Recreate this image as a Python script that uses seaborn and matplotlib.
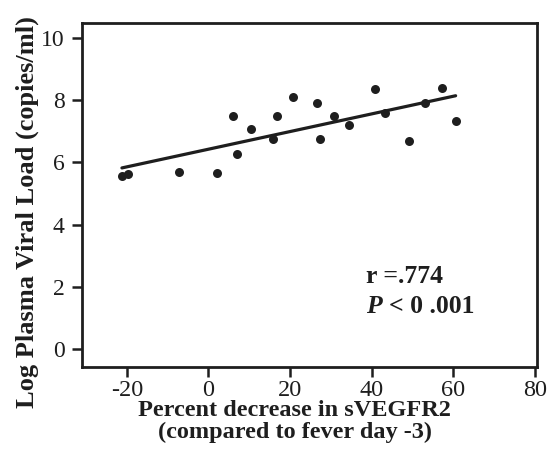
import matplotlib
matplotlib.use("Agg")
import matplotlib.pyplot as plt
import seaborn as sns
import pandas as pd

pct_decrease = [-21.2, -19.6, -7.2, 2.2, 6.1, 6.9, 10.4, 15.8, 16.9, 20.7,
                26.5, 27.4, 30.9, 34.5, 40.9, 43.3, 49.2, 53.2, 57.2, 60.6]
log_viral_load = [5.57, 5.63, 5.69, 5.67, 7.49, 6.26, 7.07, 6.75, 7.49, 8.09,
                  7.92, 6.76, 7.49, 7.22, 8.36, 7.60, 6.69, 7.92, 8.40, 7.34]
x_ticks = [-20, 0, 20, 40, 60, 80]
y_ticks = [0, 2, 4, 6, 8, 10]

df = pd.DataFrame({"x": pct_decrease, "y": log_viral_load})

sns.set_style("white")
plt.rcParams["font.family"] = ["Liberation Serif", "DejaVu Serif"]
plt.rcParams["axes.unicode_minus"] = False

ink = "#1e1e1e"
fig = plt.figure(figsize=(5.5, 4.54), dpi=100)
ax = fig.add_axes([0.149, 0.1916, 0.827, 0.7574])

sns.regplot(data=df, x="x", y="y", ax=ax, ci=None, color=ink,
            scatter_kws={"s": 42, "linewidths": 0, "alpha": 1},
            line_kws={"linewidth": 2.3})

ax.set_xlim(-31, 80.5)
ax.set_ylim(-0.58, 10.48)
ax.set_xticks(x_ticks)
ax.set_yticks(y_ticks)
ax.tick_params(axis="both", direction="out", length=7.5, width=1.8,
               colors=ink)
ax.tick_params(axis="x", labelsize=17.5, pad=2)
ax.tick_params(axis="y", labelsize=17, pad=5)
ax.tick_params(left=True, bottom=True)
for s in ax.spines.values():
    s.set_linewidth(2)
    s.set_color(ink)

ax.set_xlabel("Percent decrease in sVEGFR2\n(compared to fever day -3)",
              fontsize=17.5, fontweight="bold", color=ink, linespacing=1.05)
ax.set_ylabel("Log Plasma Viral Load (copies/ml)", fontsize=19,
              fontweight="bold", color=ink)
ax.xaxis.set_label_coords(0.468, -0.097)
ax.yaxis.set_label_coords(-0.095, 0.452)

ax.text(38.6, 2.12, "r =.774", fontsize=18.5, fontweight="bold", color=ink,
        va="baseline")
ax.text(38.6, 1.16, "P", fontsize=18.5, fontweight="bold", fontstyle="italic",
        color=ink, va="baseline")
ax.text(44.3, 1.16, "< 0 .001", fontsize=18.5, fontweight="bold", color=ink,
        va="baseline")

fig.savefig("out.png", dpi=100)
